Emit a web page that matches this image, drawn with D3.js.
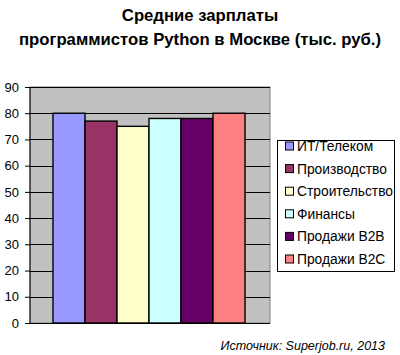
<!DOCTYPE html>
<html><head><meta charset="utf-8">
<script src="https://cdn.jsdelivr.net/npm/d3@7"></script>
<style>body{margin:0;background:#fff}svg{display:block;font-family:"Liberation Sans",Arial,sans-serif}</style>
</head><body>
<svg id="c" width="400" height="355"></svg>
<script>
const categories = ["ИТ/Телеком","Производство","Строительство","Финансы","Продажи B2B","Продажи B2C"];
const values = [80, 77, 75, 78, 78, 80];
const colors = ["#9999FF","#993366","#FFFFCC","#CCFFFF","#660066","#FF8080"];
const yTicks = [0,10,20,30,40,50,60,70,80,90];
const titleLines = ["Средние зарплаты","программистов Python в Москве (тыс. руб.)"];
const sourceText = "Источник: Superjob.ru, 2013";

const svg = d3.select("#c");
const L = 30, R = 270, T = 87, B = 323;
const y = d3.scaleLinear().domain([0,90]).range([B,T]);
const x = d3.scaleBand().domain(categories).range([53,245]).padding(0);

svg.append("rect").attr("x",L).attr("y",T).attr("width",R-L).attr("height",B-T)
  .attr("fill","#C0C0C0").attr("stroke","#808080");

// gridlines
svg.append("g").selectAll("line").data(yTicks.filter(d=>d>0)).join("line")
  .attr("x1",L).attr("x2",R).attr("y1",d=>Math.round(y(d))+0.5).attr("y2",d=>Math.round(y(d))+0.5)
  .attr("stroke","#000").attr("stroke-width",1);

// bars
svg.append("g").selectAll("rect").data(values).join("rect")
  .attr("x",(d,i)=>x(categories[i])).attr("width",x.bandwidth())
  .attr("y",d=>y(d)).attr("height",d=>B-y(d))
  .attr("fill",(d,i)=>colors[i]).attr("stroke","#000").attr("stroke-width",1.4);

// axis
const ax = svg.append("g").attr("transform",`translate(${L},0)`)
  .call(d3.axisLeft(y).tickValues(yTicks).tickSize(5).tickPadding(6));
ax.selectAll("text").attr("font-size",13).attr("fill","#000").attr("font-family","Liberation Sans, Arial, sans-serif");
ax.selectAll("line").attr("stroke","#000");
ax.select(".domain").attr("stroke","#000").attr("d",`M0,${T}V${B}`);
svg.append("line").attr("x1",L).attr("x2",R).attr("y1",B+0.5).attr("y2",B+0.5).attr("stroke","#000");

// title
svg.append("g").selectAll("text").data(titleLines).join("text")
  .attr("x",200).attr("y",(d,i)=>21+i*24).attr("text-anchor","middle")
  .attr("font-size",16.7).attr("font-weight","bold").attr("fill","#000").text(d=>d);

// legend
const lg = svg.append("g");
lg.append("rect").attr("x",277.5).attr("y",140.5).attr("width",117).attr("height",131)
  .attr("fill","#fff").attr("stroke","#000");
const items = lg.selectAll("g").data(categories).join("g")
  .attr("transform",(d,i)=>`translate(285,${146+i*22.6})`);
items.append("rect").attr("x",0.5).attr("y",-4).attr("width",8).attr("height",8)
  .attr("fill",(d,i)=>colors[i]).attr("stroke","#000");
items.append("text").attr("x",12).attr("y",5).attr("font-size",13.8).attr("fill","#000").text(d=>d);

svg.append("text").attr("x",385).attr("y",350).attr("text-anchor","end")
  .attr("font-size",12.5).attr("font-style","italic").attr("fill","#000").text(sourceText);
</script>
</body></html>
